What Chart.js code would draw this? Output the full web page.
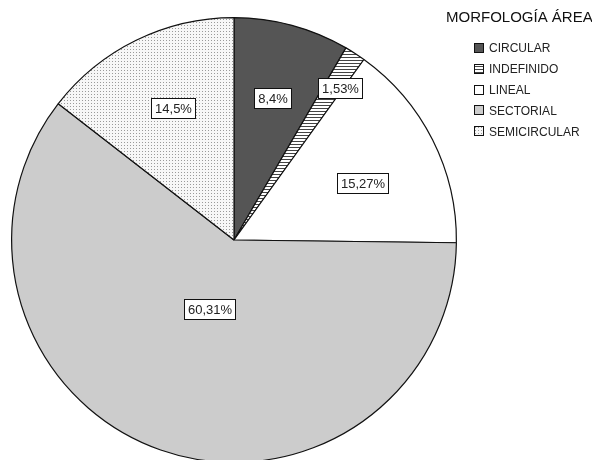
<!DOCTYPE html>
<html>
<head>
<meta charset="utf-8">
<script src="https://cdn.jsdelivr.net/npm/chart.js@4"></script>
<style>
    html, body { margin: 0; padding: 0; background: #fff; overflow: hidden; }
    canvas { display: block; }
</style>
</head>
<body>
<canvas id="pieChart" width="592" height="466"></canvas>
<script>
// Data
const categories = ['CIRCULAR', 'INDEFINIDO', 'LINEAL', 'SECTORIAL', 'SEMICIRCULAR'];
const percentages = [8.4, 1.53, 15.27, 60.31, 14.5];
const valueLabels = ['8,4%', '1,53%', '15,27%', '60,31%', '14,5%'];
const legendTitle = 'MORFOLOGÍA ÁREA';

// Label placement: distance from center (fraction of radius) and small angle nudge (degrees)
const labelRadius = [0.66, 0.832, 0.632, 0.33, 0.652];
const labelNudge = [0, 2, 3, 0, 1.3];

function makePattern(size, draw) {
    const c = document.createElement('canvas');
    c.width = size;
    c.height = size;
    const g = c.getContext('2d');
    draw(g, size);
    return g.createPattern(c, 'repeat');
}

const stripes = makePattern(3, (g, s) => {
    g.fillStyle = '#ffffff';
    g.fillRect(0, 0, s, s);
    g.fillStyle = '#444444';
    g.fillRect(0, 0, s, 1);
});

const dots = makePattern(3, (g, s) => {
    g.fillStyle = '#f7f7f7';
    g.fillRect(0, 0, s, s);
    g.fillStyle = '#9a9a9a';
    g.fillRect(1, 1, 1, 1);
});

const fills = ['#555555', stripes, '#ffffff', '#cccccc', dots];

// Boxed percentage labels
const boxLabels = {
    id: 'boxLabels',
    afterDatasetsDraw(chart) {
        const ctx = chart.ctx;
        const meta = chart.getDatasetMeta(0);
        ctx.save();
        ctx.font = '13px "Liberation Sans", Arial, sans-serif';
        ctx.textAlign = 'center';
        ctx.textBaseline = 'middle';
        meta.data.forEach((arc, i) => {
            const mid = (arc.startAngle + arc.endAngle) / 2 + labelNudge[i] * Math.PI / 180;
            const r = arc.outerRadius * labelRadius[i];
            const x = arc.x + Math.cos(mid) * r;
            const y = arc.y + Math.sin(mid) * r;
            const w = Math.round(ctx.measureText(valueLabels[i]).width + 7);
            const h = 20;
            const bx = Math.round(x - w / 2) + 0.5;
            const by = Math.round(y - h / 2) + 0.5;
            ctx.fillStyle = '#ffffff';
            ctx.fillRect(bx, by, w, h);
            ctx.strokeStyle = '#111111';
            ctx.lineWidth = 1;
            ctx.strokeRect(bx, by, w, h);
            ctx.fillStyle = '#222222';
            ctx.fillText(valueLabels[i], bx + w / 2, by + h / 2 + 1);
        });
        ctx.restore();
    }
};

// Legend drawn in the right-hand corner
const sideLegend = {
    id: 'sideLegend',
    afterDraw(chart) {
        const ctx = chart.ctx;
        ctx.save();
        ctx.fillStyle = '#111111';
        ctx.font = '15px "Liberation Sans", Arial, sans-serif';
        ctx.textBaseline = 'middle';
        ctx.textAlign = 'left';
        ctx.fillText(legendTitle, 446, 18);

        ctx.font = '12px "Liberation Sans", Arial, sans-serif';
        categories.forEach((name, i) => {
            const y = 48 + i * 20.8;
            const bx = 474, by = Math.round(y - 5);
            ctx.fillStyle = fills[i];
            ctx.fillRect(bx, by, 10, 10);
            ctx.strokeStyle = '#111111';
            ctx.lineWidth = 1;
            ctx.strokeRect(bx + 0.5, by + 0.5, 9, 9);
            ctx.fillStyle = '#222222';
            ctx.fillText(name, 489, y + 1);
        });
        ctx.restore();
    }
};

new Chart(document.getElementById('pieChart'), {
    type: 'pie',
    data: {
        labels: categories,
        datasets: [{
            data: percentages,
            backgroundColor: fills,
            borderColor: '#111111',
            borderWidth: 1.2
        }]
    },
    options: {
        responsive: false,
        animation: false,
        layout: {
            padding: { left: 11, top: 17, right: 135, bottom: 3 }
        },
        plugins: {
            legend: { display: false },
            tooltip: { enabled: false }
        }
    },
    plugins: [boxLabels, sideLegend]
});
</script>
</body>
</html>
